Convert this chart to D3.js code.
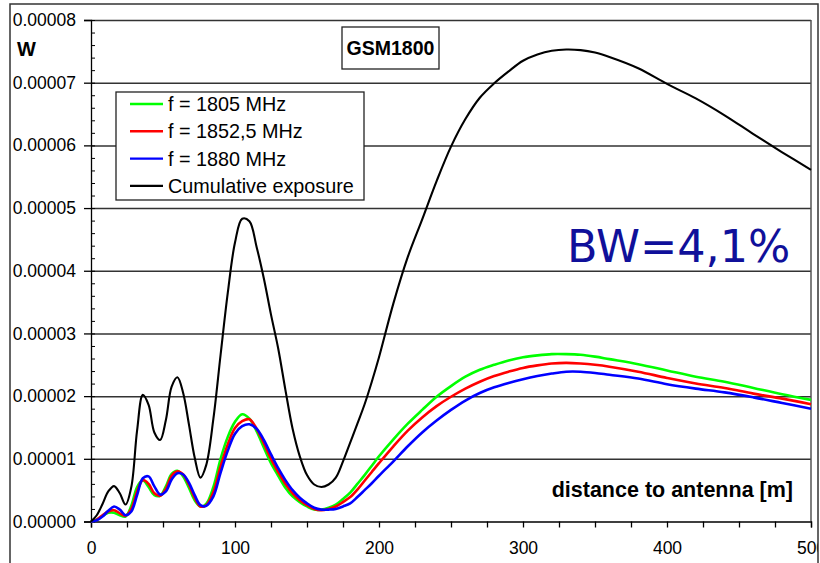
<!DOCTYPE html>
<html>
<head>
<meta charset="utf-8">
<script src="https://cdn.jsdelivr.net/npm/d3@7"></script>
<style>
  body { margin: 0; background: #fff; }
  svg { display: block; font-family: "Liberation Sans", Arial, sans-serif; }
</style>
</head>
<body>
<svg id="chart" width="820" height="563"></svg>
<script>
// distance to antenna [m]
const distance = [0,4,8,12,16,20,24,28,32,36,40,44,48,52,56,60,64,68,72,76,80,
  85,90,95,100,105,110,115,120,125,130,135,140,145,150,155,160,165,170,
  175,180,185,190,195,200,210,220,230,240,250,260,270,280,290,300,310,320,330,340,350,360,
  380,400,420,440,460,480,500];

// received power, in microwatts
const f1805 = [0,0.3,0.9,1.4,1.4,1.0,0.8,2.5,5.5,6.6,5.5,4.2,4.1,5.6,7.6,8.1,7.2,5.4,3.4,2.4,2.8,
  5.5,10.0,13.5,15.9,17.1,16.4,14.4,11.8,9.3,7.3,5.4,4.0,3.1,2.4,1.9,1.9,2.2,2.7,
  3.6,4.6,6.0,7.4,8.9,10.4,13.1,15.6,17.8,19.9,21.6,23.1,24.2,25.0,25.7,26.2,26.5,26.7,26.7,26.6,26.3,25.9,
  25.1,24.1,23.1,22.3,21.3,20.3,19.4];
const f1852 = [0,0.3,1.0,1.6,1.8,1.3,0.9,2.0,4.8,6.6,6.0,4.5,4.1,5.2,7.3,8.0,7.5,5.9,3.8,2.4,2.6,
  4.7,8.8,12.3,14.9,16.0,16.3,14.8,12.5,10.0,7.9,6.0,4.5,3.4,2.6,2.0,1.8,2.0,2.4,
  3.1,3.9,5.1,6.5,7.9,9.3,12.0,14.5,16.6,18.4,19.9,21.2,22.3,23.2,23.9,24.5,24.9,25.2,25.3,25.2,25.0,24.7,
  23.9,22.9,22.0,21.3,20.4,19.6,18.7];
const f1880 = [0,0.2,0.8,1.7,2.4,1.9,1.0,1.6,4.2,6.9,7.2,5.6,4.3,4.8,6.7,7.7,7.5,6.2,4.2,2.6,2.5,
  4.0,7.8,11.3,14.0,15.2,15.5,14.8,13.0,10.7,8.5,6.6,5.0,3.8,2.9,2.2,1.9,1.9,2.0,
  2.4,2.9,3.9,5.0,6.1,7.3,9.6,12.0,14.2,16.1,17.8,19.3,20.5,21.4,22.1,22.7,23.2,23.6,23.9,23.9,23.7,23.4,
  22.8,21.9,21.2,20.6,19.8,18.9,18.0];
const cumulative = [0,1.0,2.8,4.8,5.65,4.5,2.7,5.5,14.5,20.2,18.6,14.2,13.0,16.2,21.5,23.0,20.5,15.5,10.2,7.0,9.0,
  16.4,26.6,36.5,44.5,48.3,47.9,43.8,38.8,33.0,27.6,21.0,14.8,10.4,7.4,5.9,5.5,5.9,7.0,
  9.6,12.6,15.6,18.7,22.3,26.2,34.8,42.2,48.2,54.3,59.8,64.2,67.6,69.9,71.8,73.5,74.5,75.1,75.3,75.2,74.8,74.1,
  72.3,69.8,67.5,64.8,61.8,58.9,56.1];

const seriesNames = ["f = 1805 MHz", "f = 1852,5 MHz", "f = 1880 MHz", "Cumulative exposure"];
const seriesColors = ["#00ff00", "#ff0000", "#0000ff", "#000000"];
const seriesValues = [f1805, f1852, f1880, cumulative];

const yTicks = d3.range(0, 81, 10);
const xTicks = d3.range(0, 501, 25);

const svg = d3.select("#chart");
const plotLeft = 91, plotRight = 811, plotTop = 20, plotBottom = 521.5;

const x = d3.scaleLinear().domain([0, 500]).range([plotLeft, plotRight]);
const y = d3.scaleLinear().domain([0, 80]).range([plotBottom, plotTop]);

const root = svg.append("g");

// clip at the outer frame so the last x label gets cut like in the original
svg.append("clipPath").attr("id", "frameClip")
  .append("rect").attr("x", 0).attr("y", 0).attr("width", 818).attr("height", 563);
root.attr("clip-path", "url(#frameClip)");

// horizontal grid
root.append("g")
  .attr("transform", `translate(${plotLeft},0)`)
  .call(d3.axisLeft(y).tickValues(yTicks.slice(1)).tickSize(-(plotRight - plotLeft)).tickFormat(""))
  .call(g => g.select(".domain").remove())
  .call(g => g.selectAll("line").attr("stroke", "#333").attr("stroke-width", 1.5));

// right border of plot
root.append("line")
  .attr("x1", plotRight).attr("x2", plotRight).attr("y1", plotTop).attr("y2", plotBottom)
  .attr("stroke", "#555").attr("stroke-width", 1.5);

// y axis: major ticks + labels
root.append("g")
  .attr("transform", `translate(${plotLeft},0)`)
  .call(d3.axisLeft(y).tickValues(yTicks).tickSize(7).tickPadding(8)
    .tickFormat(d => (d / 1e6).toFixed(5)))
  .call(g => g.selectAll("text").attr("font-size", 17.5).attr("fill", "#000")
    .attr("font-family", "Liberation Sans, Arial, sans-serif"))
  .call(g => g.selectAll("line, path").attr("stroke", "#000").attr("stroke-width", 1.3));

// y axis minor ticks (inside)
root.append("g")
  .attr("transform", `translate(${plotLeft},0)`)
  .call(d3.axisRight(y).tickValues(d3.range(0, 81, 2)).tickSize(4).tickFormat(""))
  .call(g => g.select(".domain").remove())
  .call(g => g.selectAll("line").attr("stroke", "#000").attr("stroke-width", 1));

// x axis
root.append("g")
  .attr("transform", `translate(0,${plotBottom})`)
  .call(d3.axisBottom(x).tickValues(xTicks).tickSize(6).tickPadding(14)
    .tickFormat(d => d % 100 === 0 ? d : ""))
  .call(g => g.selectAll("text").attr("font-size", 17.5).attr("fill", "#000")
    .attr("font-family", "Liberation Sans, Arial, sans-serif"))
  .call(g => g.selectAll("line, path").attr("stroke", "#000").attr("stroke-width", 1.3));

// curves
const line = d3.line()
  .x((d, i) => x(distance[i]))
  .y(d => y(Math.max(0, d)))
  .curve(d3.curveCatmullRom.alpha(0.5));

seriesValues.forEach((vals, k) => {
  root.append("path")
    .datum(vals)
    .attr("fill", "none")
    .attr("stroke", seriesColors[k])
    .attr("stroke-width", k === 3 ? 2.1 : 2.6)
    .attr("stroke-linejoin", "round")
    .attr("d", line);
});

// unit label
root.append("text").attr("x", 17).attr("y", 56)
  .attr("font-size", 20).attr("font-weight", "bold").text("W");

// title box
const tb = root.append("g");
tb.append("rect").attr("x", 342).attr("y", 27).attr("width", 97).attr("height", 42)
  .attr("fill", "#fff").attr("stroke", "#222").attr("stroke-width", 1.3);
tb.append("text").attr("x", 390.5).attr("y", 54.5).attr("text-anchor", "middle")
  .attr("font-size", 19.5).attr("font-weight", "bold").text("GSM1800");

// legend
const lg = root.append("g");
lg.append("rect").attr("x", 116).attr("y", 92).attr("width", 248).attr("height", 108)
  .attr("fill", "#fff").attr("stroke", "#222").attr("stroke-width", 1.3);
seriesNames.forEach((name, k) => {
  const cy = 104 + k * 27.3;
  lg.append("line").attr("x1", 130).attr("x2", 163).attr("y1", cy).attr("y2", cy)
    .attr("stroke", seriesColors[k]).attr("stroke-width", 2.4);
  lg.append("text").attr("x", 168).attr("y", cy + 7).attr("font-size", 19.8).text(name);
});

// annotations
root.append("text").attr("x", 793).attr("y", 497).attr("text-anchor", "end")
  .attr("font-size", 21.5).attr("font-weight", "bold").text("distance to antenna [m]");

root.append("text").attr("x", 567).attr("y", 262)
  .attr("font-family", "DejaVu Sans, Verdana, sans-serif")
  .attr("font-size", 44.5).attr("fill", "#10109a").text("BW=4,1%");

// outer frame
svg.append("rect").attr("x", 10).attr("y", 4).attr("width", 808).attr("height", 620)
  .attr("fill", "none").attr("stroke", "#333").attr("stroke-width", 1.5);
</script>
</body>
</html>
